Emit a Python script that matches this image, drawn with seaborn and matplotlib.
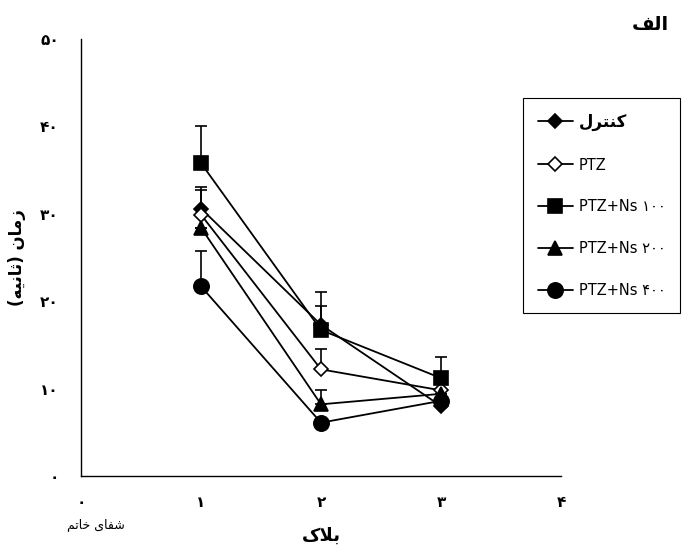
import matplotlib
matplotlib.use("Agg")
import matplotlib.pyplot as plt
import seaborn as sns
import pandas as pd

# داده‌ها (بلاک 1 تا 3)
blocks = [1, 2, 3]
control = [30.6, 17.3, 8.0]
control_err = [2.5, 2.2, 0.0]
ptz = [29.9, 12.2, 9.8]
ptz_err = [2.8, 2.3, 0.0]
ns100 = [35.8, 16.7, 11.2]
ns100_err = [4.2, 4.3, 2.4]
ns200 = [28.4, 8.2, 9.4]
ns200_err = [0.0, 1.6, 0.0]
ns400 = [21.7, 6.1, 8.6]
ns400_err = [4.0, 0.0, 0.0]

# متن فارسی به صورت شکل‌های نمایشی (matplotlib شکل‌دهی عربی ندارد)
label_control = "\uFEDD\uFEAE\uFE98\uFEE8\uFB90"          # کنترل
labels = [label_control, "PTZ", "PTZ+Ns \u06F1\u06F0\u06F0",
          "PTZ+Ns \u06F2\u06F0\u06F0", "PTZ+Ns \u06F4\u06F0\u06F0"]
title_txt = "\uFED2\uFEDF\uFE8D"                            # الف
ylabel_txt = "(\uFEEA\uFBFF\uFEE7\uFE8E\uFE9B) \uFEE5\uFE8E\uFEE3\uFEAF"  # زمان (ثانیه)
xlabel_txt = "\uFB8E\uFEFC\uFE91"                           # بلاک
logo_txt = "\uFEE2\uFE97\uFE8E\uFEA7 \uFBFC\uFE8E\uFED4\uFEB7"  # شفای خاتم
xticks_fa = ["\u06F0", "\u06F1", "\u06F2", "\u06F3", "\u06F4"]
yticks_fa = ["\u06F0", "\u06F1\u06F0", "\u06F2\u06F0", "\u06F3\u06F0",
             "\u06F4\u06F0", "\u06F5\u06F0"]

sns.set_style("white")
plt.rcParams["font.family"] = ["DejaVu Sans", "Noto Sans"]
plt.rcParams["text.color"] = "black"
plt.rcParams["axes.labelcolor"] = "black"
plt.rcParams["xtick.color"] = "black"
plt.rcParams["ytick.color"] = "black"

fig = plt.figure(figsize=(6.88, 5.52), dpi=100)
ax = fig.add_axes([0.1177, 0.1377, 0.6977, 0.7917])

series = [
    (control, control_err, "D", "black", 7),
    (ptz, ptz_err, "D", "white", 7),
    (ns100, ns100_err, "s", "black", 10),
    (ns200, ns200_err, "^", "black", 10),
    (ns400, ns400_err, "o", "black", 11),
]

for (vals, err, mk, face, ms), lab in zip(series, labels):
    df = pd.DataFrame({"block": blocks, "time": vals})
    ax.errorbar(blocks, vals, yerr=[[0] * 3, err], fmt="none",
                ecolor="black", elinewidth=1.2, capsize=4, capthick=1.2)
    sns.lineplot(data=df, x="block", y="time", ax=ax, color="black",
                 marker=mk, markersize=ms, markerfacecolor=face,
                 markeredgecolor="black", markeredgewidth=1.2,
                 linewidth=1.3, label=lab)

ax.set_xlim(0, 4)
ax.set_ylim(0, 50)
ax.set_xticks(range(5))
ax.set_xticklabels(xticks_fa, fontweight="bold", fontsize=11)
ax.set_yticks(range(0, 51, 10))
ax.set_yticklabels(yticks_fa, fontweight="bold", fontsize=11)
ax.tick_params(direction="out", length=6, width=1, color="black")
ax.tick_params(axis="x", pad=8)
ax.tick_params(axis="y", pad=10)
for s in ["top", "right"]:
    ax.spines[s].set_visible(False)
for s in ["left", "bottom"]:
    ax.spines[s].set_color("black")
    ax.spines[s].set_linewidth(1)

ax.set_xlabel(xlabel_txt, fontsize=13, fontweight="bold", labelpad=12)
ax.set_ylabel(ylabel_txt, fontsize=12, fontweight="bold", labelpad=10)

ax.get_legend().remove()
h, l = ax.get_legend_handles_labels()
h = [x for x in h if hasattr(x, "get_marker")]
leg = fig.legend(h[:5], labels, loc="upper left",
                 bbox_to_anchor=(0.750, 0.836), frameon=True, fancybox=False,
                 edgecolor="black", framealpha=1, fontsize=10.5,
                 labelspacing=1.85, handlelength=2.4, borderpad=1.0,
                 handletextpad=0.4)
leg.get_frame().set_linewidth(0.8)
leg.get_texts()[0].set_fontsize(12)
leg.get_texts()[0].set_fontweight("bold")

fig.text(0.945, 0.955, title_txt, fontsize=14, fontweight="bold",
         ha="center", va="center")
fig.text(0.14, 0.05, logo_txt, fontsize=9,
         ha="center", va="center")

fig.savefig("out.png", dpi=100)
